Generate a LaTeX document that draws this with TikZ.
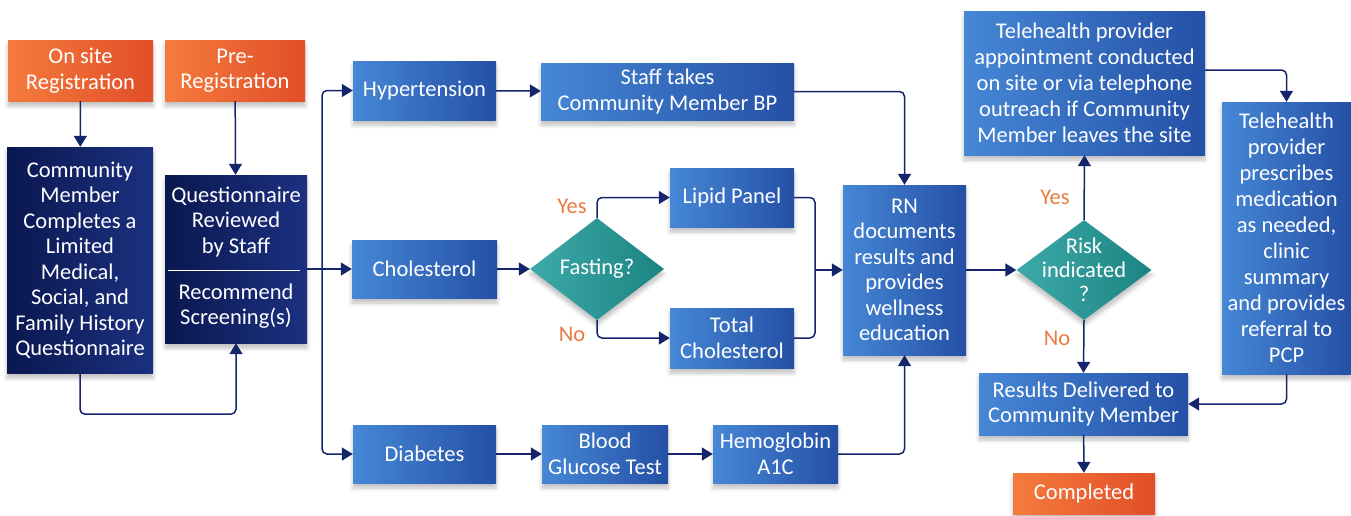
\documentclass[tikz,border=0pt]{standalone}
\usepackage{fontspec}
\setmainfont{Carlito}
\usetikzlibrary{shapes.geometric,arrows.meta,shadows.blur}
\definecolor{navy}{HTML}{15256C}
\definecolor{deepL}{HTML}{0A1850}
\definecolor{deepR}{HTML}{1C3080}
\definecolor{blueL}{HTML}{4687D6}
\definecolor{blueR}{HTML}{2450A5}
\definecolor{orangeL}{HTML}{F57B3D}
\definecolor{orangeR}{HTML}{E14E28}
\definecolor{tealL}{HTML}{3DAAA9}
\definecolor{tealR}{HTML}{1B8482}
\definecolor{answer}{HTML}{EA7A40}

\begin{document}
\begin{tikzpicture}[x=1pt,y=-1pt,
	font=\fontsize{22.5}{25.5}\selectfont,
	shadowed/.style={blur shadow={shadow xshift=0pt,shadow yshift=-5pt,shadow blur radius=4pt,shadow opacity=25}},
	box/.style={rectangle,inner sep=0pt,align=center,text=white,shadowed},
	bluebox/.style={box,left color=blueL,right color=blueR},
	deepbox/.style={box,left color=deepL,right color=deepR},
	regbox/.style={box,left color=orangeL,right color=orangeR},
	decision/.style={diamond,inner sep=0pt,left color=tealL,right color=tealR,shadowed},
	decisiontext/.style={align=center,text=white,inner sep=0pt,font=\fontsize{22.5}{24}\selectfont},
	link/.style={draw=navy,line width=1.5pt,rounded corners=5pt,-{Triangle[width=13pt,length=11pt]}},
	joint/.style={draw=navy,line width=1.5pt,rounded corners=5pt},
	answer/.style={text=answer,inner sep=0pt}]
	\useasboundingbox (0,0) rectangle (1351,515);
	\def\trunkx{322};
	\def\mergex{815};

	\node[regbox,minimum width=145,minimum height=61] (onsite) at (80.5,70.5) {On site\\Registration};
	\node[regbox,minimum width=140,minimum height=61] (prereg) at (235,70.5) {Pre-\\Registration};
	\node[deepbox,minimum width=146,minimum height=226] (community) at (80,260) {Community\\Member\\Completes a\\Limited\\Medical,\\Social, and\\Family History\\Questionnaire};
	\node[deepbox,minimum width=142,minimum height=168] (quest) at (236,259) {};
	\node[align=center,text=white,inner sep=0pt] (questtop) at (236,222) {Questionnaire\\Reviewed\\by Staff};
	\node[align=center,text=white,inner sep=0pt] (questbot) at (236,306) {Recommend\\Screening(s)};
	\draw[white,line width=1pt] (168,270) -- (300,270);

	\node[bluebox,minimum width=143,minimum height=59] (hyper) at (424.5,90.5) {Hypertension};
	\node[bluebox,minimum width=253,minimum height=57] (staff) at (667.5,91.5) {Staff takes\\Community Member BP};
	\node[bluebox,minimum width=145,minimum height=58] (chol) at (424.5,269) {Cholesterol};
	\node[decision,minimum width=134,minimum height=102] (fasting) at (597,269) {};
	\node[decisiontext] (fastingtext) at (fasting.center) {Fasting?};
	\node[bluebox,minimum width=124,minimum height=59] (lipid) at (732,197.5) {Lipid Panel};
	\node[bluebox,minimum width=124,minimum height=60] (total) at (732,338) {Total\\Cholesterol};
	\node[bluebox,minimum width=143,minimum height=58] (diab) at (424.5,454) {Diabetes};
	\node[bluebox,minimum width=126,minimum height=58] (glucose) at (605,454) {Blood\\Glucose Test};
	\node[bluebox,minimum width=125,minimum height=58] (hemo) at (775.5,454) {Hemoglobin\\A1C};
	\node[bluebox,minimum width=123,minimum height=170] (rn) at (904.5,270) {RN\\documents\\results and\\provides\\wellness\\education};

	\node[decision,minimum width=135,minimum height=100] (risk) at (1084,270) {};
	\node[decisiontext] (risktext) at (risk.center) {Risk\\indicated\\?};
	\node[bluebox,minimum width=241,minimum height=144,font=\fontsize{22.5}{26}\selectfont] (appt) at (1084.5,83) {Telehealth provider\\appointment conducted\\on site or via telephone\\outreach if Community\\Member leaves the site};
	\node[bluebox,minimum width=129,minimum height=272,font=\fontsize{22.5}{26}\selectfont] (presc) at (1286.5,238) {Telehealth\\provider\\prescribes\\medication\\as needed,\\clinic\\summary\\and provides\\referral to\\PCP};
	\node[bluebox,minimum width=209,minimum height=62] (results) at (1083.5,404) {Results Delivered to\\Community Member};
	\node[regbox,minimum width=142,minimum height=41] (done) at (1084,493.5) {Completed};

	\node[answer] (yesfast) at (572,206) {Yes};
	\node[answer] (nofast) at (572,334) {No};
	\node[answer] (yesrisk) at (1055,197) {Yes};
	\node[answer] (norisk) at (1057,338) {No};

	\coordinate (trunk) at (\trunkx,269);
	\coordinate (merge) at (\mergex,270);

	\draw[link] (onsite) -- (community);
	\draw[link] (prereg) -- (quest);
	\draw[link] (community.south) -- ++(0,41) -| (quest.south);
	\draw[link] (quest.east |- chol) -- (chol.west);
	\draw[link] (trunk) |- (hyper.west);
	\draw[link] (trunk) |- (diab.west);
	\draw[link] (hyper) -- (staff);
	\draw[link] (staff.east) -| (rn.north);
	\draw[link] (chol) -- (fasting);
	\draw[link] (fasting.north) |- (lipid.west);
	\draw[link] (fasting.south) |- (total.west);
	\draw[joint] (lipid.east) -| (merge) |- (total.east);
	\draw[link] (merge) -- (rn.west);
	\draw[link] (diab) -- (glucose);
	\draw[link] (glucose) -- (hemo);
	\draw[link] (hemo.east) -| (rn.south);
	\draw[link] (rn.east) -- (risk.west);
	\draw[link] (risk.north) -- (appt.south);
	\draw[link] (risk.south) -- (results.north);
	\draw[link] (results) -- (done);
	\draw[link] ([yshift=13pt]appt.east) -| (presc.north);
	\draw[link] (presc.south) |- (results.east);
\end{tikzpicture}
\end{document}
